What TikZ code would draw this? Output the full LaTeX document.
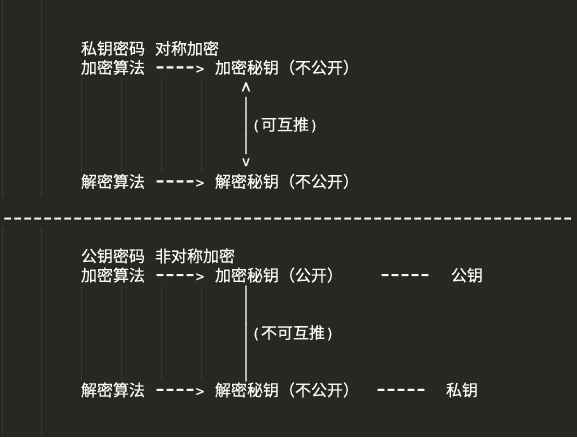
\documentclass[tikz,border=0pt]{standalone}
\usepackage{fontspec}
\usepackage{graphicx}
\newfontfamily\cjk{Noto Sans CJK SC}[FakeBold=0.5]
\newfontfamily\monof{DejaVu Sans Mono}[Ligatures=TeXOff,FakeBold=0.5]
\definecolor{bg}{HTML}{272822}
\definecolor{fg}{HTML}{F8F8F2}
\definecolor{guide}{HTML}{4A4B42}
\newcommand\cjkf{\cjk\fontsize{16}{19}\selectfont}
\newcommand\asf{\monof\fontsize{14}{19}\selectfont}
\newcommand\ch[1]{\makebox[10pt]{#1}}
\newcommand\dsh{\makebox[10pt]{\scalebox{1.8}[1.6]{-}}}
\newcommand\dshten{\dsh\dsh\dsh\dsh\dsh\dsh\dsh\dsh\dsh\dsh}
\newcommand\vb{\makebox[10pt]{\scalebox{1}[1.37]{|}}}
\newcommand\upc{\makebox[10pt]{\raisebox{-13.5pt}{\scalebox{1.1}[2.3]{\textasciicircum}}}}
\newcommand\arr{\dsh\dsh\dsh\dsh\ch{>}}
\begin{document}
\begin{tikzpicture}[x=1pt,y=-1pt,
  txt/.style={anchor=base west, inner sep=0pt, outer sep=0pt, text=fg, font=\cjkf},
  asc/.style={anchor=base west, inner sep=0pt, outer sep=0pt, text=fg, font=\asf},
  guideline/.style={draw=guide, line width=0.7pt, dash pattern=on 1pt off 1pt}]
\fill[bg] (0,0) rectangle (577,437);
\useasboundingbox (0,0) rectangle (577,437);
% indent guides
\foreach \gx in {2.5,41.5}{
  \draw[guideline] (\gx,0) -- (\gx,197);
  \draw[guideline] (\gx,227) -- (\gx,437);}
\foreach \gx in {81.5,121.5,161.5,201.5}{
  \draw[guideline] (\gx,78) -- (\gx,171);
  \draw[guideline] (\gx,287) -- (\gx,380);}
% ---------- top block ----------
\node[txt] (h1) at (81,54.5) {私钥密码};
\node[txt] (h1b) at (155,54.5) {对称加密};
\node[txt] (ea1) at (81,73.5) {加密算法};
\node[asc] (ar1) at (155,73.5) {\arr};
\node[txt] (ek1) at (215,73.5) {加密秘钥};
\node[txt] (ep1) at (279,73.5) {（不公开）};
\node[asc] (up1) at (241,92.5) {\upc};
\node[asc] (b11) at (241,111.5) {\vb};
\node[asc] (b12) at (241,130.5) {\vb};
\node[asc] (lab1) at (251,130.5) {\ch{(}{\cjkf 可互推}\ch{)}};
\node[asc] (b13) at (241,149.5) {\vb};
\node[asc] (dn1) at (241,166) {\ch{v}};
\node[txt] (da1) at (81,187.5) {解密算法};
\node[asc] (ar2) at (155,187.5) {\arr};
\node[txt] (dk1) at (215,187.5) {解密秘钥};
\node[txt] (dp1) at (279,187.5) {（不公开）};
% ---------- separator ----------
\node[asc] (sep) at (2.6,224.7) {\dshten\dshten\dshten\dshten\dshten\dsh\dsh\dsh\dsh\dsh\dsh\dsh};
% ---------- bottom block ----------
\node[txt] (h2) at (81,262) {公钥密码};
\node[txt] (h2b) at (155,262) {非对称加密};
\node[txt] (ea2) at (81,281.2) {加密算法};
\node[asc] (ar3) at (155,281.2) {\arr};
\node[txt] (ek2) at (215,281.2) {加密秘钥};
\node[txt] (ep2) at (279,281.2) {（公开）};
\node[asc] (ln1) at (380,281.2) {\dsh\dsh\dsh\dsh\dsh};
\node[txt] (pk) at (451,281.2) {公钥};
\node[asc] (b21) at (241,300.3) {\vb};
\node[asc] (b22) at (241,319.5) {\vb};
\node[asc] (b23) at (241,338.6) {\vb};
\node[asc] (lab2) at (251,338.6) {\ch{(}{\cjkf 不可互推}\ch{)}};
\node[asc] (b24) at (241,357.8) {\vb};
\node[asc] (b25) at (241,376.9) {\vb};
\node[txt] (da2) at (81,396) {解密算法};
\node[asc] (ar4) at (155,396) {\arr};
\node[txt] (dk2) at (215,396) {解密秘钥};
\node[txt] (dp2) at (279,396) {（不公开）};
\node[asc] (ln2) at (376,396) {\dsh\dsh\dsh\dsh\dsh};
\node[txt] (sk) at (446,396) {私钥};
\end{tikzpicture}
\end{document}
